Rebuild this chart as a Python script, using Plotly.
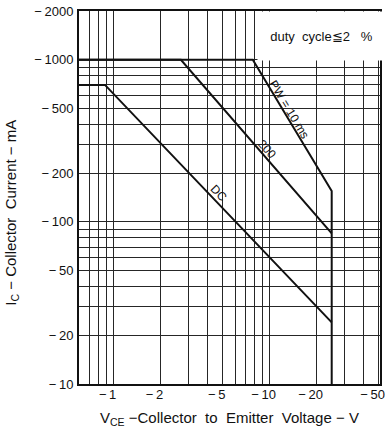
import numpy as np
import plotly.graph_objects as go

# Safe operating area, |VCE| in volts vs |IC| in mA (both plotted on log axes)
dc_vce = [0.6, 0.88, 25]
dc_ic = [700, 700, 24]

pw200_vce = [0.6, 2.7, 25]
pw200_ic = [1000, 1000, 85]

pw10_vce = [0.6, 7.8, 25, 25]
pw10_ic = [1000, 1000, 155, 10]

# Axis ticks and grid
x_major = [1, 2, 5, 10, 20, 50]
x_labels = ["\u2212\u20091", "\u2212\u20092", "\u2212\u20095", "\u2212\u200910",
            "\u2212\u200920", "\u2212\u200950"]
x_minor = [0.7, 0.8, 0.9, 3, 4, 6, 7, 8, 9, 30, 40]

y_major = [10, 20, 50, 100, 200, 500, 1000, 2000]
y_labels = ["\u2212\u200910", "\u2212\u200920", "\u2212\u200950", "\u2212\u2009100",
            "\u2212\u2009200", "\u2212\u2009500", "\u2212\u20091000", "\u2212\u20092000"]
y_minor = [30, 40, 60, 70, 80, 90, 300, 400, 600, 700, 800, 900]

X_RANGE = [0.6, 51]
Y_RANGE = [10, 2000]

FONT = "Liberation Sans"
INK = "#111111"
GRID = "#262626"
NB = "\u00a0"

fig = go.Figure()

for vce, ic in [(dc_vce, dc_ic), (pw200_vce, pw200_ic), (pw10_vce, pw10_ic)]:
    fig.add_trace(go.Scatter(
        x=vce, y=ic, mode="lines",
        line=dict(color=INK, width=2),
        showlegend=False, hoverinfo="skip",
    ))

fig.update_xaxes(
    type="log",
    range=[np.log10(X_RANGE[0]), np.log10(X_RANGE[1])],
    tickmode="array", tickvals=x_major, ticktext=x_labels,
    showgrid=True, gridcolor=GRID, gridwidth=1,
    minor=dict(tickmode="array", tickvals=x_minor, showgrid=True,
               gridcolor=GRID, gridwidth=1, ticks=""),
    ticks="", showline=True, linecolor=INK, linewidth=1.5, mirror=True,
    tickfont=dict(family=FONT, size=13, color=INK),
    ticklabelshift=-6, ticklabelstandoff=-2,
    ticklabeloverflow="allow",
    zeroline=False,
)
fig.update_yaxes(
    type="log",
    range=[np.log10(Y_RANGE[0]), np.log10(Y_RANGE[1])],
    tickmode="array", tickvals=y_major, ticktext=y_labels,
    showgrid=True, gridcolor=GRID, gridwidth=1,
    minor=dict(tickmode="array", tickvals=y_minor, showgrid=True,
               gridcolor=GRID, gridwidth=1, ticks=""),
    ticks="", showline=True, linecolor=INK, linewidth=2, mirror=True,
    tickfont=dict(family=FONT, size=13, color=INK),
    ticklabelstandoff=1,
    zeroline=False,
)

annotations = [
    # duty-cycle note on a white panel in the upper-right corner
    dict(xref="paper", yref="paper", x=0.5915, y=1.0, xanchor="left", yanchor="top",
         text=f"duty{NB}{NB}cycle\u22662{NB}{NB}{NB}%", showarrow=False,
         width=125, height=46, bgcolor="white", align="center", valign="middle",
         font=dict(family=FONT, size=13, color=INK)),
    # curve labels
    dict(x=np.log10(13.4), y=np.log10(490), text="PW = 10 ms", textangle=59,
         showarrow=False, font=dict(family=FONT, size=12, color=INK)),
    dict(x=np.log10(9.6), y=np.log10(282), text="200", textangle=48,
         showarrow=False, font=dict(family=FONT, size=12, color=INK)),
    dict(x=np.log10(4.72), y=np.log10(151), text="DC", textangle=46,
         showarrow=False, font=dict(family=FONT, size=12, color=INK)),
    # axis titles
    dict(xref="paper", yref="paper", x=0.5, y=-0.062, xanchor="center", yanchor="top",
         text=f"V<sub>CE</sub>{NB}\u2212Collector{NB}{NB}to{NB}{NB}Emitter{NB}{NB}Voltage{NB}\u2212{NB}V",
         showarrow=False, font=dict(family=FONT, size=15, color=INK)),
    dict(xref="paper", yref="paper", x=-0.225, y=0.46, xanchor="center", yanchor="middle",
         text=f"I<sub>C</sub>{NB}\u2212{NB}Collector{NB}{NB}Current{NB}\u2212{NB}mA", textangle=-90,
         showarrow=False, font=dict(family=FONT, size=15, color=INK)),
]

fig.update_layout(
    width=385, height=433,
    margin=dict(l=79, r=0, t=11, b=49),
    paper_bgcolor="white", plot_bgcolor="white",
    annotations=annotations,
    showlegend=False,
)

fig.write_html("out.html")
